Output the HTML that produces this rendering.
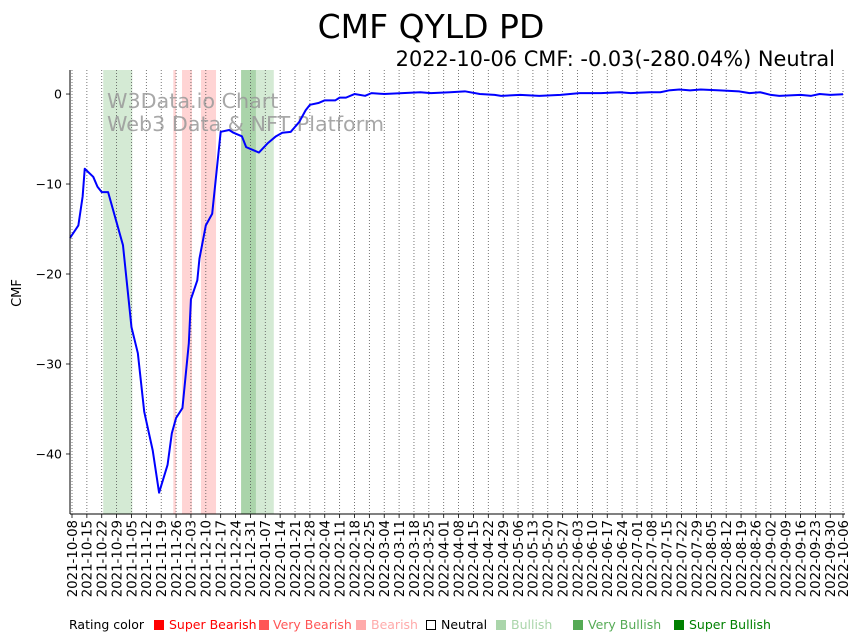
<!DOCTYPE html>
<html><head><meta charset="utf-8"><style>
body{margin:0;background:#fff;}
svg{display:block;font-family:"DejaVu Sans","Liberation Sans",sans-serif;}
</style></head><body>
<svg id="chart" width="862" height="641" viewBox="0 0 862 641">
<text x="431" y="38" text-anchor="middle" font-size="33">CMF QYLD PD</text>
<text x="835" y="66" text-anchor="end" font-size="20.9">2022-10-06 CMF: -0.03(-280.04%) Neutral</text>
<g id="bands"></g>
<g id="grid"></g>
<text x="107" y="108" font-size="20.7" fill="#999" fill-opacity="0.85">W3Data.io Chart</text>
<text x="107" y="131" font-size="20.7" fill="#999" fill-opacity="0.85">Web3 Data &amp; NFT Platform</text>
<g id="series"></g>
<g id="axes"></g>
<text transform="translate(21,293) rotate(-90)" text-anchor="middle" font-size="13">CMF</text>
<g id="legend" font-size="12.5">
<text x="69" y="629" fill="#000">Rating color</text>
<rect x="154" y="620" width="10" height="10" fill="#ff0000"/><text x="169" y="629" fill="#ff0000">Super Bearish</text>
<rect x="259" y="620" width="10" height="10" fill="#ff5555"/><text x="273" y="629" fill="#ff5555">Very Bearish</text>
<rect x="356" y="620" width="10" height="10" fill="#ffaaaa"/><text x="371" y="629" fill="#ffaaaa">Bearish</text>
<rect x="426.5" y="620.5" width="9" height="9" fill="none" stroke="#000"/><text x="441" y="629" fill="#000">Neutral</text>
<rect x="496" y="620" width="10" height="10" fill="#aad5aa"/><text x="511" y="629" fill="#aad5aa">Bullish</text>
<rect x="573" y="620" width="10" height="10" fill="#55aa55"/><text x="588" y="629" fill="#55aa55">Very Bullish</text>
<rect x="674" y="620" width="10" height="10" fill="#008000"/><text x="689" y="629" fill="#008000">Super Bullish</text>
</g>
</svg>
<script>
const days=[-1,3,5,6,10,12,14,17,24,28,31,34,38,41,45,47,49,52,55,56,59,60,63,66,70,74,76,80,82,88,92,96,99,103,107,110,112,116,119,124,126,129,133,138,141,147,164,169,178,185,192,199,202,211,220,230,239,249,258,263,272,277,281,286,291,296,305,314,319,324,329,333,343,348,352,357,363];
const cmf=[-16.0,-14.6,-11.4,-8.3,-9.2,-10.3,-10.9,-10.9,-16.8,-25.9,-28.8,-35.3,-39.6,-44.3,-41.2,-37.7,-36.0,-34.9,-27.7,-22.8,-20.7,-18.3,-14.6,-13.3,-4.2,-4.0,-4.3,-4.7,-5.9,-6.5,-5.5,-4.7,-4.3,-4.2,-3.1,-1.8,-1.2,-1.0,-0.7,-0.7,-0.4,-0.4,0.0,-0.2,0.1,0.0,0.2,0.1,0.2,0.3,0.0,-0.1,-0.2,-0.1,-0.2,-0.1,0.1,0.1,0.2,0.1,0.2,0.2,0.4,0.5,0.4,0.5,0.4,0.3,0.1,0.2,-0.1,-0.2,-0.1,-0.2,0.0,-0.1,-0.03];
const bandStart=[14.7,47.7,51.8,60.7,79.6,86.6];
const bandEnd=[28.4,49,56.5,67.8,86.6,95];
const bandRating=["Bullish","Bearish","Bearish","Bearish","Very Bullish","Bullish"];
const yTicks=[0,-10,-20,-30,-40];
const startDate="2021-10-08";
const weekCount=53;

const NS="http://www.w3.org/2000/svg";
const X0=70,X1=845,Y0=70,Y1=514;
const pxDay=2.124, xOrigin=72;
const x=d=>xOrigin+d*pxDay;
const yMax=2.67,yMin=-46.67;
const y=v=>Y0+(yMax-v)/(yMax-yMin)*(Y1-Y0);
const colors={"Super Bearish":"#ff0000","Very Bearish":"#ff5555","Bearish":"#ffaaaa","Bullish":"#aad5aa","Very Bullish":"#55aa55","Super Bullish":"#008000"};
function mk(tag,attrs,parent){const e=document.createElementNS(NS,tag);for(const k in attrs)e.setAttribute(k,attrs[k]);parent.appendChild(e);return e;}

const bands=document.getElementById('bands');
bandStart.forEach((s,i)=>{
  const r=mk('rect',{x:x(s),y:Y0,width:x(bandEnd[i])-x(s),height:Y1-Y0,fill:colors[bandRating[i]],'fill-opacity':0.5},bands);
  
  
});

const grid=document.getElementById('grid'),axes=document.getElementById('axes');
const sd=new Date(startDate+"T00:00:00Z");
for(let i=0;i<weekCount;i++){
  let d=i*7; if(i===weekCount-1) d=363;
  const xx=x(d);
  const g=mk('line',{x1:xx,x2:xx,y1:Y0,y2:Y1,stroke:'#555','stroke-width':0.8,'stroke-dasharray':'1,2'},grid);
  
  
  mk('line',{x1:xx,x2:xx,y1:Y1,y2:Y1+4,stroke:'#000','stroke-width':0.8},axes);
  const dt=new Date(sd.getTime()+d*86400000).toISOString().slice(0,10);
  const t=mk('text',{transform:`translate(${xx+4.8},${Y1+6}) rotate(-90)`,'text-anchor':'end','font-size':13.3},axes);
  t.textContent=dt;
  
  
}
yTicks.forEach(v=>{
  mk('line',{x1:X0-4,x2:X0,y1:y(v),y2:y(v),stroke:'#000','stroke-width':0.8},axes);
  const t=mk('text',{x:X0-8,y:y(v)+4.5,'text-anchor':'end','font-size':12.5},axes);
  t.textContent=v<0?'\u2212'+Math.abs(v):String(v);
  
  
});
const la=mk('line',{x1:X0,x2:X0,y1:Y0,y2:Y1,stroke:'#000','stroke-width':1},axes);


const lb=mk('line',{x1:X0,x2:X1,y1:Y1,y2:Y1,stroke:'#000','stroke-width':1},axes);



const series=document.getElementById('series');
const p=mk('polyline',{points:days.map((d,i)=>Math.max(X0,x(d))+','+y(cmf[i])).join(' '),fill:'none',stroke:'#0000ff','stroke-width':2,'stroke-linejoin':'round'},series);


</script>
</body></html>
